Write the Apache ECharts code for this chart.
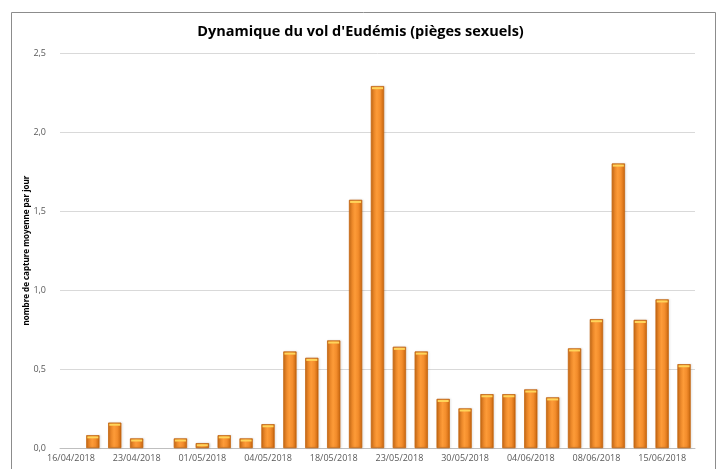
<!DOCTYPE html>
<html>
<head>
<meta charset="utf-8">
<script src="https://cdn.jsdelivr.net/npm/echarts@6/dist/echarts.min.js"></script>
<style>
  html, body { margin: 0; padding: 0; background: #fff; }
  #chart { width: 721px; height: 469px; }
</style>
</head>
<body>
<div id="chart"></div>
<script>
// Labels shown under the axis (one every third bar)
const dateLabels = ['16/04/2018', '23/04/2018', '01/05/2018', '04/05/2018', '18/05/2018',
                    '23/05/2018', '30/05/2018', '04/06/2018', '08/06/2018', '15/06/2018'];

// Average catches per day
const captures = [0, 0.08, 0.16, 0.06, 0, 0.06, 0.03, 0.08, 0.06, 0.15,
                  0.61, 0.57, 0.68, 1.57, 2.29, 0.64, 0.61, 0.31, 0.25, 0.34,
                  0.34, 0.37, 0.32, 0.63, 0.815, 1.80, 0.81, 0.94, 0.53];

const yTicks = [0, 0.5, 1.0, 1.5, 2.0, 2.5];

// category names: labelled dates every third slot, blanks between
const categories = captures.map(function (v, i) {
    return i % 3 === 0 ? dateLabels[i / 3] : ' '.repeat(i % 3) + i;
});

const chart = echarts.init(document.getElementById('chart'));

const barColor = new echarts.graphic.LinearGradient(0, 0, 1, 0, [
    { offset: 0, color: '#d9741a' },
    { offset: 0.45, color: '#fd9b38' },
    { offset: 0.7, color: '#f38d2c' },
    { offset: 1, color: '#c9660f' }
]);

chart.setOption({
    backgroundColor: '#fff',
    textStyle: { fontFamily: 'Open Sans' },
    title: {
        text: "Dynamique du vol d'Eudémis (pièges sexuels)",
        left: 'center',
        top: 19,
        textStyle: { fontSize: 14.5, fontWeight: 'bold', color: '#000', fontFamily: 'Open Sans' }
    },
    graphic: [{
        type: 'rect',
        shape: { x: 11.5, y: 12.5, width: 704, height: 470 },
        style: { fill: 'none', stroke: '#8c8c8c', lineWidth: 1 },
        silent: true
    }],
    grid: { left: 60, right: 26, top: 53, bottom: 21 },
    xAxis: {
        type: 'category',
        data: categories,
        axisTick: { show: false },
        axisLine: { lineStyle: { color: '#bfbfbf' } },
        axisLabel: {
            interval: 2,
            color: '#595959',
            fontSize: 9,
            margin: 6,
            formatter: function (v) { return v.indexOf('/') > 0 ? v : ''; }
        }
    },
    yAxis: {
        type: 'value',
        min: 0,
        max: yTicks[yTicks.length - 1],
        interval: 0.5,
        name: 'nombre de capture moyenne par jour',
        nameLocation: 'middle',
        nameGap: 29,
        nameMoveOverlap: false,
        nameRotate: 90,
        nameTextStyle: { fontSize: 8, fontWeight: 'bold', color: '#000' },
        axisLabel: {
            color: '#595959',
            fontSize: 9,
            margin: 14,
            formatter: function (v) { return v.toFixed(1).replace('.', ','); }
        },
        splitLine: { lineStyle: { color: '#d9d9d9' } },
        axisLine: { show: false },
        axisTick: { show: false }
    },
    series: [{
        type: 'bar',
        data: captures.map(function (v) {
            return v > 0 ? v : { value: v, itemStyle: { borderWidth: 0, shadowBlur: 0, opacity: 0 } };
        }),
        barWidth: 13,
        itemStyle: {
            color: barColor,
            borderColor: '#c2640f',
            borderWidth: 0.5,
            shadowColor: 'rgba(0,0,0,0.25)',
            shadowBlur: 2,
            shadowOffsetX: 1
        }
    }, {
        // thin light cap on top of each bar
        type: 'pictorialBar',
        data: captures.map(function (v) { return v > 0 ? v : null; }),
        symbol: 'rect',
        symbolSize: [11, 2],
        symbolPosition: 'end',
        symbolOffset: [0, 1],
        itemStyle: { color: '#ffd45a' },
        silent: true,
        z: 3
    }]
});
</script>
</body>
</html>
